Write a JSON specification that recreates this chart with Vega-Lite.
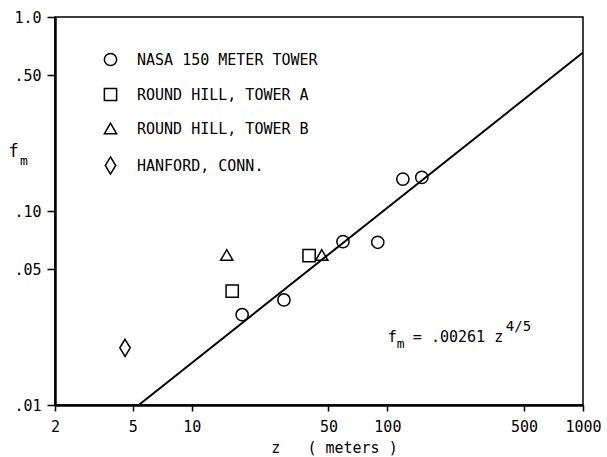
{
  "$schema": "https://vega.github.io/schema/vega-lite/v6.json",
  "width": 528,
  "height": 388,
  "autosize": {"type": "none"},
  "padding": {"left": 55, "top": 17, "right": 24, "bottom": 52},
  "background": "white",
  "title": {"text": "m", "anchor": "start", "frame": "group", "orient": "top", "offset": 0, "dx": -35, "dy": 168, "baseline": "alphabetic", "align": "left", "font": "DejaVu Sans Mono", "fontSize": 13, "fontWeight": "normal", "color": "black"},
  "config": {
    "view": {"stroke": "black", "strokeWidth": 1.5},
    "font": "DejaVu Sans Mono",
    "axis": {"grid": false, "domainColor": "black", "tickColor": "black", "labelColor": "black", "titleColor": "black", "labelFont": "DejaVu Sans Mono", "titleFont": "DejaVu Sans Mono", "labelFontSize": 15, "titleFontSize": 15, "titleFontWeight": "normal", "domainWidth": 2.5, "tickWidth": 1.5}
  },
  "datasets": {
    "obs": [
      {"z": 18.1, "f": 0.0292, "site": "NASA 150 METER TOWER"},
      {"z": 29.6, "f": 0.0348, "site": "NASA 150 METER TOWER"},
      {"z": 59.3, "f": 0.0695, "site": "NASA 150 METER TOWER"},
      {"z": 89.3, "f": 0.069, "site": "NASA 150 METER TOWER"},
      {"z": 120, "f": 0.146, "site": "NASA 150 METER TOWER"},
      {"z": 150, "f": 0.149, "site": "NASA 150 METER TOWER"},
      {"z": 16.1, "f": 0.0386, "site": "ROUND HILL, TOWER A"},
      {"z": 39.8, "f": 0.0588, "site": "ROUND HILL, TOWER A"},
      {"z": 15.1, "f": 0.0593, "site": "ROUND HILL, TOWER B"},
      {"z": 46.2, "f": 0.0593, "site": "ROUND HILL, TOWER B"},
      {"z": 4.56, "f": 0.0197, "site": "HANFORD, CONN."}
    ],
    "fit": [
      {"z": 5.36, "f": 0.01},
      {"z": 1000, "f": 0.656}
    ],
    "eq": [
      {"z": 135, "f": 0.0211, "fpart": "f", "sub": "m", "rest": "= .00261 z", "sup": "4/5"}
    ]
  },
  "layer": [
    {
      "data": {"name": "fit"},
      "mark": {"type": "line", "color": "black", "strokeWidth": 2, "clip": true},
      "encoding": {
        "x": {"field": "z", "type": "quantitative", "scale": {"type": "log", "domain": [2, 1000], "nice": false},
          "axis": {"values": [2, 5, 10, 50, 100, 500, 1000], "format": "d", "tickSize": 6, "labelPadding": 8, "title": "z\u00a0\u00a0\u00a0( meters )", "titleX": 279, "titlePadding": 6, "labelFlush": false, "labelOverlap": false}},
        "y": {"field": "f", "type": "quantitative", "scale": {"type": "log", "domain": [0.01, 1], "nice": false},
          "axis": {"values": [0.01, 0.05, 0.1, 0.5, 1], "tickSize": 8, "labelPadding": 6, "labelExpr": "datum.value == 1 ? '1.0' : replace(format(datum.value, '.2f'), '0.', '.')", "title": "f", "titleAngle": 0, "titleX": -42, "titleY": 134, "titleAlign": "center", "titleBaseline": "middle", "titleFontSize": 17, "labelFlush": false}}
      }
    },
    {
      "data": {"name": "obs"},
      "mark": {"type": "point", "filled": false, "stroke": "black", "strokeWidth": 1.5, "size": 150, "opacity": 1},
      "encoding": {
        "x": {"field": "z", "type": "quantitative"},
        "y": {"field": "f", "type": "quantitative"},
        "shape": {"field": "site", "type": "nominal",
          "scale": {"domain": ["NASA 150 METER TOWER", "ROUND HILL, TOWER A", "ROUND HILL, TOWER B", "HANFORD, CONN."], "range": ["circle", "square", "triangle-up", "M0,-1.4L0.85,0L0,1.4L-0.85,0Z"]},
          "legend": {"title": null, "orient": "none", "legendX": 48, "legendY": 35, "labelFont": "DejaVu Sans Mono", "labelFontSize": 15, "labelColor": "black", "symbolStrokeColor": "black", "symbolFillColor": "transparent", "symbolStrokeWidth": 1.5, "symbolSize": 150, "labelOffset": 19, "rowPadding": 16, "labelLimit": 400}}
      }
    },
    {
      "data": {"name": "eq"},
      "mark": {"type": "text", "align": "right", "baseline": "alphabetic", "fontSize": 15, "font": "DejaVu Sans Mono", "color": "black", "dx": -16},
      "encoding": {
        "x": {"field": "z", "type": "quantitative"},
        "y": {"field": "f", "type": "quantitative"},
        "text": {"field": "fpart"}
      }
    },
    {
      "data": {"name": "eq"},
      "mark": {"type": "text", "align": "left", "baseline": "alphabetic", "fontSize": 13, "font": "DejaVu Sans Mono", "color": "black", "dx": -16, "dy": 6},
      "encoding": {
        "x": {"field": "z", "type": "quantitative"},
        "y": {"field": "f", "type": "quantitative"},
        "text": {"field": "sub"}
      }
    },
    {
      "data": {"name": "eq"},
      "mark": {"type": "text", "align": "left", "baseline": "alphabetic", "fontSize": 15, "font": "DejaVu Sans Mono", "color": "black"},
      "encoding": {
        "x": {"field": "z", "type": "quantitative"},
        "y": {"field": "f", "type": "quantitative"},
        "text": {"field": "rest"}
      }
    },
    {
      "data": {"name": "eq"},
      "mark": {"type": "text", "align": "left", "baseline": "alphabetic", "fontSize": 14, "font": "DejaVu Sans Mono", "color": "black", "dx": 93, "dy": -11},
      "encoding": {
        "x": {"field": "z", "type": "quantitative"},
        "y": {"field": "f", "type": "quantitative"},
        "text": {"field": "sup"}
      }
    }
  ]
}
